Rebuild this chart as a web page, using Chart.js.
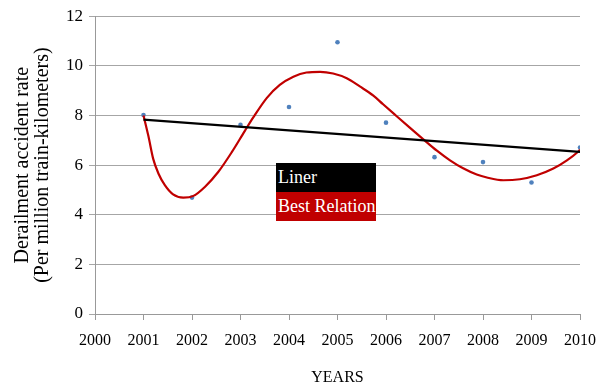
<!DOCTYPE html>
<html>
<head>
<meta charset="utf-8">
<script src="https://cdn.jsdelivr.net/npm/chart.js@4/dist/chart.umd.min.js"></script>
<style>
  html, body { margin: 0; padding: 0; background: #fff; }
  #wrap { position: relative; width: 610px; height: 387px; }
  #legend { position: absolute; left: 276px; top: 163px; width: 100px;
            font-family: "Liberation Serif", "Times New Roman", serif; font-size: 18px; color: #fff; }
  #legend div { height: 29px; line-height: 29px; padding-left: 2px; box-sizing: border-box; white-space: nowrap; }
</style>
</head>
<body>
<div id="wrap">
  <canvas id="c" width="610" height="387"></canvas>
  <div id="legend">
    <div style="background:#000;">Liner</div>
    <div style="background:#c00000;">Best Relation</div>
  </div>
</div>
<script>
// Observed derailment accident rate per year
const years = [2001, 2002, 2003, 2004, 2005, 2006, 2007, 2008, 2009, 2010];
const rates = [8.02, 4.69, 7.62, 8.34, 10.95, 7.71, 6.32, 6.12, 5.30, 6.71];

// Linear trend ("Liner") end points
const linerYears = [2001, 2010];
const linerRates = [7.83, 6.53];

// Best-relation curve, sampled along its path
const bestYears = [2001.0, 2001.10, 2001.20, 2001.31, 2001.44, 2001.61, 2001.82, 2002.03, 2002.27, 2002.54,
                   2002.82, 2003.09, 2003.26, 2003.54, 2003.81, 2004.09, 2004.36, 2004.64, 2004.91, 2005.19,
                   2005.46, 2005.74, 2005.94, 2006.22, 2006.49, 2006.77, 2007.05, 2007.32, 2007.59, 2007.87,
                   2008.08, 2008.42, 2008.76, 2009.11, 2009.45, 2009.73, 2009.96, 2010.0];
const bestRates = [8.0, 7.18, 6.25, 5.65, 5.19, 4.82, 4.69, 4.76, 5.13, 5.72,
                   6.52, 7.38, 7.91, 8.70, 9.23, 9.56, 9.73, 9.76, 9.69, 9.50,
                   9.17, 8.80, 8.45, 7.97, 7.51, 7.04, 6.58, 6.19, 5.87, 5.62,
                   5.50, 5.39, 5.43, 5.59, 5.86, 6.19, 6.54, 6.62];

const pairs = (xs, ys) => xs.map((x, i) => ({ x: x, y: ys[i] }));

const serif = "'Liberation Serif', 'Times New Roman', serif";

new Chart(document.getElementById('c'), {
  type: 'scatter',
  data: {
    datasets: [
      {
        label: 'Best Relation',
        data: pairs(bestYears, bestRates),
        showLine: true,
        borderColor: '#c00000',
        borderWidth: 2.2,
        pointRadius: 0,
        cubicInterpolationMode: 'monotone',
        order: 2
      },
      {
        label: 'Liner',
        data: pairs(linerYears, linerRates),
        showLine: true,
        borderColor: '#000',
        borderWidth: 2.2,
        pointRadius: 0,
        order: 1
      },
      {
        label: 'Rate',
        data: pairs(years, rates),
        backgroundColor: '#4f81bd',
        borderColor: '#4f81bd',
        pointRadius: 2.3,
        borderWidth: 0,
        order: 3
      }
    ]
  },
  options: {
    responsive: false,
    animation: false,
    layout: { padding: { left: 13, right: 30, top: 12, bottom: 0 } },
    plugins: { legend: { display: false }, tooltip: { enabled: false } },
    scales: {
      x: {
        type: 'linear',
        min: 2000, max: 2010,
        ticks: { stepSize: 1, color: '#000', font: { family: serif, size: 16 }, padding: 11,
                 callback: v => String(v) },
        grid: { drawOnChartArea: false, color: '#999', tickLength: 6 },
        border: { color: '#999' },
        title: { display: true, text: 'YEARS', color: '#000', font: { family: serif, size: 16 }, padding: { top: 6, bottom: 0 } },
        afterFit: s => { s.height = 73; }
      },
      y: {
        min: 0, max: 12,
        ticks: { stepSize: 2, color: '#000', font: { family: serif, size: 17 }, padding: 6 },
        grid: { color: '#a6a6a6', tickLength: 6 },
        border: { color: '#999' },
        title: { display: true, text: ['Derailment accident rate', '(Per million train-kilometers)'],
                 color: '#000', font: { family: serif, size: 20, lineHeight: 1.0 }, padding: 0 },
        afterFit: s => { s.width = 82; }
      }
    }
  }
});
</script>
</body>
</html>
